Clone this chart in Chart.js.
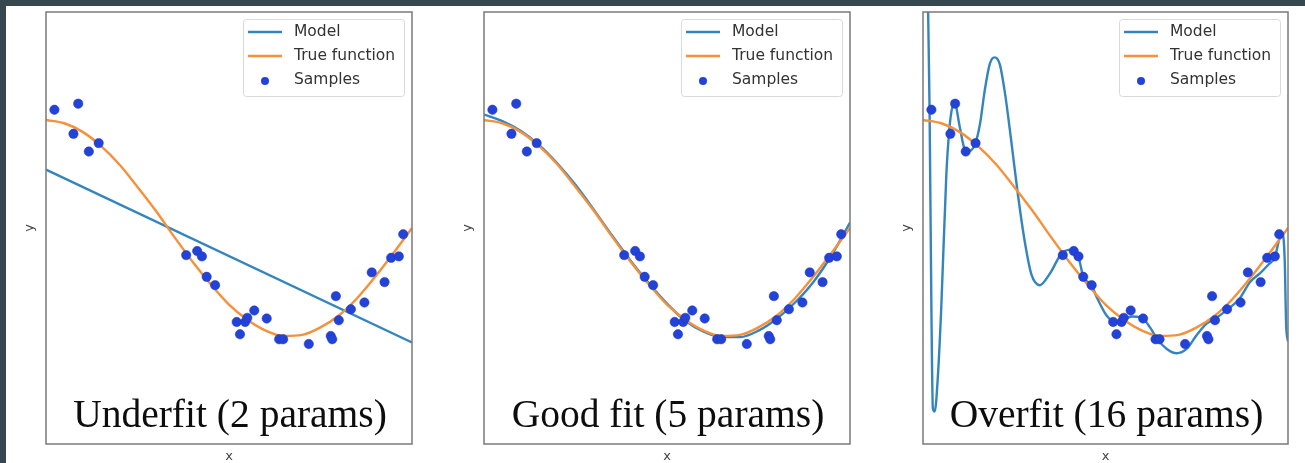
<!DOCTYPE html>
<html lang="en">
<head>
  <meta charset="UTF-8" />
  <title>Underfit / Good fit / Overfit</title>
  <script src="https://cdn.jsdelivr.net/npm/chart.js"></script>
  <style>
    body {
      margin: 0;
      width: 1305px;
      height: 463px;
      overflow: hidden;
      position: relative;
      background: #37474f;
    }
    .sheet {
      position: absolute;
      left: 6px;
      top: 6px;
      right: 0;
      bottom: 0;
      background: #ffffff;
    }
    canvas {
      position: absolute;
      top: 0;
    }
  </style>
</head>
<body>
  <div class="sheet"></div>
  <canvas id="under" width="401" height="463" style="left:19px"></canvas>
  <canvas id="good" width="401" height="463" style="left:457px"></canvas>
  <canvas id="over" width="400" height="463" style="left:896px"></canvas>

  <script>
    // samples (same 30 points in every panel)
    const sampleX = [0.023, 0.075, 0.088, 0.117, 0.144, 0.383, 0.413, 0.426, 0.439, 0.462,
                     0.521, 0.530, 0.544, 0.550, 0.569, 0.603, 0.637, 0.648, 0.718, 0.778,
                     0.782, 0.792, 0.800, 0.833, 0.870, 0.890, 0.925, 0.943, 0.964, 0.976];
    const sampleY = [1.095, 0.872, 1.151, 0.708, 0.786, -0.251, -0.213, -0.263, -0.452, -0.529,
                     -0.870, -0.984, -0.870, -0.832, -0.764, -0.838, -1.030, -1.030, -1.074, -1.000,
                     -1.030, -0.631, -0.854, -0.752, -0.690, -0.411, -0.501, -0.276, -0.263, -0.058];

    // true function
    const trueX = [0, 0.05, 0.1, 0.15, 0.2, 0.25, 0.3, 0.35, 0.4, 0.45, 0.5,
                   0.55, 0.6, 0.65, 0.7, 0.75, 0.8, 0.85, 0.9, 0.95, 1];
    const trueY = [1.00, 0.97, 0.89, 0.76, 0.59, 0.38, 0.16, -0.08, -0.31, -0.52, -0.71,
                   -0.85, -0.95, -1.00, -0.99, -0.92, -0.81, -0.65, -0.45, -0.23, 0.00];

    // model curves
    const underX = [0, 1];
    const underY = [0.54, -1.06];

    const goodX = [0, 0.05, 0.1, 0.15, 0.2, 0.25, 0.3, 0.35, 0.4, 0.45, 0.5,
                   0.55, 0.6, 0.65, 0.7, 0.75, 0.8, 0.85, 0.9, 0.95, 1];
    const goodY = [1.05, 0.99, 0.90, 0.77, 0.60, 0.40, 0.17, -0.07, -0.30, -0.51, -0.70,
                   -0.86, -0.96, -1.01, -1.01, -0.95, -0.84, -0.69, -0.50, -0.25, 0.05];

    const overX = [0, 0.014, 0.018, 0.023, 0.027, 0.032, 0.041, 0.050, 0.064, 0.071, 0.078, 0.087,
                   0.101, 0.114, 0.123, 0.142, 0.156, 0.169, 0.183, 0.196, 0.210, 0.225,
                   0.242, 0.260, 0.279, 0.297, 0.320, 0.348, 0.380, 0.407, 0.426, 0.439,
                   0.462, 0.476, 0.503, 0.526, 0.549, 0.572, 0.599, 0.622, 0.640, 0.668,
                   0.695, 0.722, 0.750, 0.777, 0.800, 0.832, 0.868, 0.896, 0.923, 0.946,
                   0.964, 0.978, 0.985, 0.991, 0.995, 1];
    const overY = [4.6, 2.0, 1.10, -0.74, -1.67, -1.70, -1.36, -0.74, 0.50, 0.87, 1.08, 1.15,
                   0.93, 0.73, 0.71, 0.77, 0.96, 1.27, 1.52, 1.58, 1.52, 1.24,
                   0.80, 0.31, -0.13, -0.43, -0.53, -0.42, -0.235, -0.20, -0.27, -0.45,
                   -0.53, -0.64, -0.81, -0.87, -0.85, -0.82, -0.83, -0.92, -1.02, -1.12,
                   -1.16, -1.12, -0.99, -0.885, -0.84, -0.76, -0.65, -0.50, -0.42, -0.34,
                   -0.27, -0.08, -0.05, -0.30, -0.90, -1.05];

    const legendLabels = ['Model', 'True function', 'Samples'];
    const captions = ['Underfit (2 params)', 'Good fit (5 params)', 'Overfit (16 params)'];

    const BLUE = '#3485bd';
    const ORANGE = '#f5913b';
    const DOT = '#2242d8';

    const pts = (xs, ys) => xs.map((x, i) => ({ x: x, y: ys[i] }));

    // axes frame, caption and matplotlib-style legend inside the axes
    const framePlugin = {
      id: 'framePlugin',
      afterDatasetsDraw(chart, args, opts) {
        const ctx = chart.ctx;
        const a = chart.chartArea;
        ctx.save();

        ctx.fillStyle = '#0d0d0d';
        ctx.font = '39.5px "Liberation Serif", serif';
        ctx.textAlign = 'center';
        ctx.textBaseline = 'alphabetic';
        ctx.fillText(opts.caption, (a.left + a.right) / 2 + 1, a.bottom - 17);

        const w = 161, h = 77;
        const bx = a.right - 8 - w, by = a.top + 7;
        ctx.beginPath();
        ctx.roundRect(bx + 0.5, by + 0.5, w, h, 3);
        ctx.fillStyle = 'rgba(255,255,255,0.85)';
        ctx.fill();
        ctx.strokeStyle = '#d9d9d9';
        ctx.lineWidth = 1;
        ctx.stroke();

        ctx.font = '15.5px "DejaVu Sans", sans-serif';
        ctx.textAlign = 'left';
        ctx.textBaseline = 'middle';
        chart.data.datasets.forEach((ds, i) => {
          const y = by + 13 + i * 24;
          if (ds.showLine) {
            ctx.strokeStyle = ds.borderColor;
            ctx.lineWidth = 2.5;
            ctx.beginPath();
            ctx.moveTo(bx + 5, y);
            ctx.lineTo(bx + 39, y);
            ctx.stroke();
          } else {
            ctx.fillStyle = ds.backgroundColor;
            ctx.beginPath();
            ctx.arc(bx + 22, y + 1, 4, 0, Math.PI * 2);
            ctx.fill();
          }
          ctx.fillStyle = '#333333';
          ctx.fillText(ds.label, bx + 51, y);
        });

        ctx.strokeStyle = '#7a7a7a';
        ctx.lineWidth = 1.5;
        ctx.strokeRect(a.left, a.top, a.right - a.left, a.bottom - a.top);
        ctx.restore();
      }
    };

    function axis(text, padding) {
      return {
        type: 'linear',
        min: -2,
        max: 2,
        grid: { display: false, drawTicks: false },
        border: { display: false },
        ticks: { display: false },
        title: {
          display: true,
          text: text,
          color: '#444',
          font: { family: 'DejaVu Sans', size: 13, lineHeight: 1 },
          padding: padding
        }
      };
    }

    function makeChart(id, modelX, modelY, caption) {
      const xAxis = axis('x', { top: 6, bottom: 0 });
      xAxis.min = 0;
      xAxis.max = 1;
      new Chart(document.getElementById(id), {
        type: 'scatter',
        data: {
          datasets: [
            {
              label: legendLabels[0],
              data: pts(modelX, modelY),
              showLine: true,
              borderColor: BLUE,
              borderWidth: 2.4,
              pointRadius: 0,
              cubicInterpolationMode: 'monotone',
              order: 2
            },
            {
              label: legendLabels[1],
              data: pts(trueX, trueY),
              showLine: true,
              borderColor: ORANGE,
              borderWidth: 2.4,
              pointRadius: 0,
              cubicInterpolationMode: 'monotone',
              order: 1
            },
            {
              label: legendLabels[2],
              data: pts(sampleX, sampleY),
              showLine: false,
              backgroundColor: DOT,
              borderColor: '#1c36c4',
              borderWidth: 0.5,
              pointRadius: 4.7,
              order: 0
            }
          ]
        },
        options: {
          responsive: false,
          animation: false,
          events: [],
          layout: { autoPadding: false, padding: { left: 4, right: 8, top: 12, bottom: 0 } },
          plugins: {
            legend: { display: false },
            tooltip: { enabled: false },
            framePlugin: { caption: caption }
          },
          scales: {
            x: xAxis,
            y: axis('y', { top: 0, bottom: 10 })
          }
        },
        plugins: [framePlugin]
      });
    }

    makeChart('under', underX, underY, captions[0]);
    makeChart('good', goodX, goodY, captions[1]);
    makeChart('over', overX, overY, captions[2]);
  </script>
</body>
</html>
